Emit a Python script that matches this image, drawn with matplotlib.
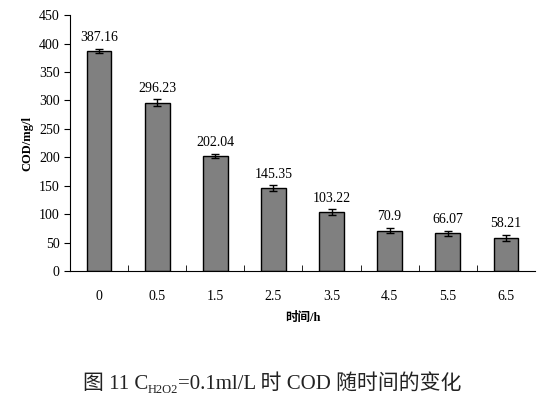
import matplotlib.pyplot as plt
import numpy as np

plt.rcParams['font.family'] = ['Liberation Serif', 'Noto Sans CJK SC']

times = ['0', '0.5', '1.5', '2.5', '3.5', '4.5', '5.5', '6.5']
cod = [387.16, 296.23, 202.04, 145.35, 103.22, 70.9, 66.07, 58.21]
err = [4, 6, 4, 5, 5, 5, 5, 5]
labels = ['387.16', '296.23', '202.04', '145.35', '103.22', '70.9', '66.07', '58.21']

fig = plt.figure(figsize=(5.53, 3.99), dpi=100)
ax = fig.add_axes([0.127, 0.321, 0.84, 0.641])

x = np.arange(len(times))
ax.bar(x, cod, width=0.42, color='#808080', edgecolor='black', linewidth=1.0,
       yerr=err, capsize=3, error_kw={'elinewidth': 1, 'capthick': 1})
for xi, v, lab, e in zip(x, cod, labels, err):
    ax.text(xi, v + e + 8, lab, ha='center', va='bottom', fontsize=10)

ax.set_xlim(-0.5, len(times) - 0.5)
ax.set_ylim(0, 450)
ax.set_yticks(range(0, 451, 50))
ax.set_xticks(x)
ax.set_xticklabels(times, fontsize=10)
ax.set_xticks(x[:-1] + 0.5, minor=True)
ax.tick_params(axis='x', which='major', length=0, pad=14)
ax.tick_params(axis='x', which='minor', direction='in', length=4)
ax.tick_params(axis='y', direction='out', length=4, labelsize=10)
ax.spines['top'].set_visible(False)
ax.spines['right'].set_visible(False)
ax.set_ylabel('COD/mg/l', fontsize=9, fontweight='bold')
ax.set_xlabel('时间/h', fontsize=9, fontweight='bold', labelpad=6)

# caption built from pieces so the CJK text and the subscript both render
fig.canvas.draw()
renderer = fig.canvas.get_renderer()
parts = [('图 11 C', 15, 0), ('H2O2', 9, -4), ('=0.1ml/L 时 COD 随时间的变化', 15, 0)]
texts = []
for s, size, dy in parts:
    t = fig.text(0, 0, s, fontsize=size, color='#222222', va='baseline')
    texts.append((t, dy))
widths = [t.get_window_extent(renderer).width for t, _ in texts]
W, H = fig.bbox.width, fig.bbox.height
x0 = 0.492 * W - sum(widths) / 2
base = 0.025 * H
for (t, dy), w in zip(texts, widths):
    t.set_position((x0 / W, (base + dy) / H))
    x0 += w

fig.savefig('out.png', dpi=100)
